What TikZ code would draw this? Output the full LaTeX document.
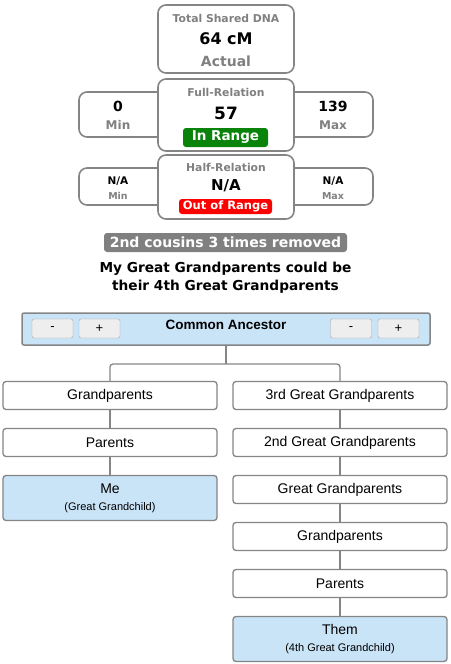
\documentclass[tikz,border=0pt]{standalone}
\usepackage{fontspec}
\setmainfont{Liberation Sans}
\newfontfamily\verd{DejaVu Sans}
\usetikzlibrary{positioning, calc}
\definecolor{edgegray}{HTML}{858585}
\definecolor{labelgray}{HTML}{808080}
\definecolor{paleblue}{HTML}{C9E3F7}
\definecolor{okgreen}{HTML}{0A830A}
\definecolor{badred}{HTML}{FF0000}
\definecolor{btnfill}{HTML}{EEEEEE}
\tikzstyle{Stat}=[draw=edgegray, line width=1.6pt, rounded corners=8pt, fill=white, inner sep=0pt]
\tikzstyle{Head}=[text=labelgray, font=\verd\bfseries\fontsize{10.8}{12}\selectfont, inner sep=0pt]
\tikzstyle{Big}=[font=\verd\bfseries\fontsize{16}{19}\selectfont, inner sep=0pt]
\tikzstyle{Small}=[font=\verd\bfseries\fontsize{10.5}{12}\selectfont, inner sep=0pt]
\tikzstyle{Badge}=[rounded corners=3pt, text=white, inner sep=0pt, font=\verd\bfseries\fontsize{13.5}{15}\selectfont]
\tikzstyle{Button}=[draw=gray!70, fill=btnfill, rounded corners=2pt, minimum width=41pt, minimum height=19pt, inner sep=0pt, font=\fontsize{13}{15}\selectfont]
\tikzstyle{Box}=[draw=edgegray, line width=1.3pt, rounded corners=3pt, fill=white, minimum width=214pt, minimum height=28pt, inner sep=0pt, font=\fontsize{14}{16}\selectfont]
\tikzstyle{Me}=[Box, fill=paleblue, minimum height=45pt, align=center]
\tikzstyle{Link}=[draw=edgegray, line width=1.3pt]

\begin{document}
\begin{tikzpicture}[x=1pt, y=-1pt, node distance=17.7pt]
  \useasboundingbox (0,0) rectangle (450,664);
  % side boxes first, the middle ones cover their inner edges
  \node[Stat, minimum width=92pt, minimum height=45pt] (fmin) at (125,114.5) {};
  \node[Stat, minimum width=92pt, minimum height=45pt] (fmax) at (327,114.5) {};
  \node[Stat, minimum width=92pt, minimum height=37pt] (hmin) at (125,186.5) {};
  \node[Stat, minimum width=92pt, minimum height=37pt] (hmax) at (327,186.5) {};
  \node[Stat, minimum width=136pt, minimum height=68pt] (total) at (226,39) {};
  \node[Stat, minimum width=136pt, minimum height=72pt] (full) at (226,115) {};
  \node[Stat, minimum width=136pt, minimum height=64pt] (half) at (226,187) {};

  \node[Head] (totalt) at (226,18) {Total Shared DNA};
  \node[Big] (totalv) at (226,38.5) {64 cM};
  \node[Head, font=\verd\bfseries\fontsize{14}{16}\selectfont] (actual) at (226,61) {Actual};

  \node[Head] (fullt) at (226,92) {Full-Relation};
  \node[Big, font=\verd\bfseries\fontsize{17}{19}\selectfont] (fullv) at (226,113) {57};
  \node[Badge, fill=okgreen, minimum width=85pt, minimum height=19pt] (inr) at (225.5,137.5) {In Range};
  \node[Big, font=\verd\bfseries\fontsize{14}{16}\selectfont] (fminv) at (118,106) {0};
  \node[Head, font=\verd\bfseries\fontsize{12}{14}\selectfont] (fmint) at (118,125) {Min};
  \node[Big, font=\verd\bfseries\fontsize{14}{16}\selectfont] (fmaxv) at (333,106) {139};
  \node[Head, font=\verd\bfseries\fontsize{12}{14}\selectfont] (fmaxt) at (333,125) {Max};

  \node[Head] (halft) at (226,167) {Half-Relation};
  \node[Big, font=\verd\bfseries\fontsize{15}{17}\selectfont] (halfv) at (226,186) {N/A};
  \node[Badge, fill=badred, minimum width=93pt, minimum height=15pt, font=\verd\bfseries\fontsize{11.5}{13}\selectfont] (outr) at (225.5,206.5) {Out of Range};
  \node[Small] (hminv) at (118,181) {N/A};
  \node[Head, font=\verd\bfseries\fontsize{9.5}{11}\selectfont] (hmint) at (118,196) {Min};
  \node[Small] (hmaxv) at (333,181) {N/A};
  \node[Head, font=\verd\bfseries\fontsize{9.5}{11}\selectfont] (hmaxt) at (333,196) {Max};

  \node[Badge, fill=labelgray, minimum width=243pt, minimum height=19pt, font=\verd\bfseries\fontsize{14}{15}\selectfont] (rel) at (225.5,242.5) {2nd cousins 3 times removed};
  \node[font=\verd\bfseries\fontsize{13.7}{17.5}\selectfont, align=center, inner sep=0pt] (expl) at (225.5,277.5)
    {My Great Grandparents could be\\their 4th Great Grandparents};

  % common ancestor bar
  \node[draw=edgegray, line width=1.5pt, fill=paleblue, rounded corners=2pt, minimum width=408pt, minimum height=32pt, inner sep=0pt] (ca) at (226,329) {};
  \node[font=\bfseries\fontsize{13.5}{15}\selectfont, inner sep=0pt] (cat) at (226,325) {Common Ancestor};
  \node[Button] (lminus) at (52.5,328.5) {-};
  \node[Button] (lplus) at (99.5,328.5) {+};
  \node[Button] (rminus) at (351,328.5) {-};
  \node[Button] (rplus) at (398.5,328.5) {+};

  % my line
  \node[Box] (l1) at (110,395.5) {Grandparents};
  \node[Box, below=of l1] (l2) {Parents};
  \node[Me, below=of l2] (l3) {Me\\[1pt]{\fontsize{11}{13}\selectfont(Great Grandchild)}};
  % their line
  \node[Box] (r1) at (340,395.5) {3rd Great Grandparents};
  \node[Box, below=of r1] (r2) {2nd Great Grandparents};
  \node[Box, below=of r2] (r3) {Great Grandparents};
  \node[Box, below=of r3] (r4) {Grandparents};
  \node[Box, below=of r4] (r5) {Parents};
  \node[Me, below=of r5] (r6) {Them\\[1pt]{\fontsize{11}{13}\selectfont(4th Great Grandchild)}};

  \coordinate (fork) at (ca.south |- 0,364);
  \draw[Link] (ca.south) -- (fork);
  \draw[Link, rounded corners=3pt] (l1.north) |- (fork) -| (r1.north);
  \path[Link] (l1) edge (l2) (l2) edge (l3)
    (r1) edge (r2) (r2) edge (r3) (r3) edge (r4) (r4) edge (r5) (r5) edge (r6);
\end{tikzpicture}
\end{document}
